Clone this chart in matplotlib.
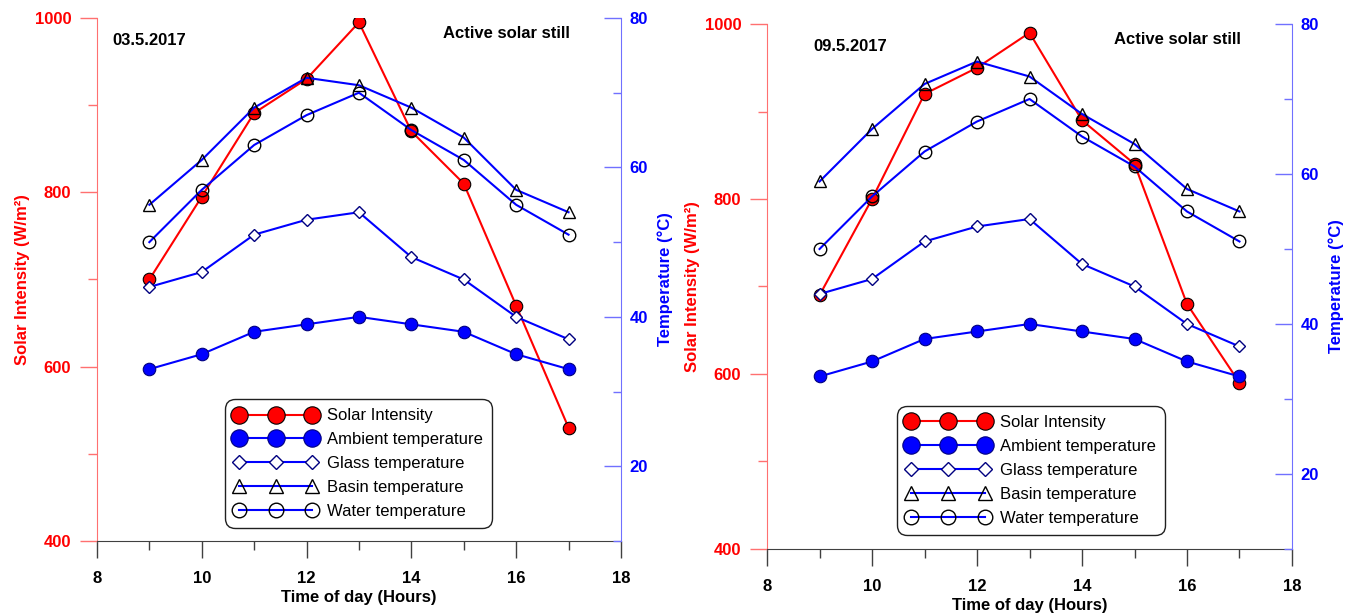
import matplotlib.pyplot as plt
from matplotlib.ticker import MultipleLocator

plt.rcParams["font.family"] = ["Liberation Sans", "DejaVu Sans"]

hours = [9, 10, 11, 12, 13, 14, 15, 16, 17]

# 03.5.2017
solar_a = [700, 795, 891, 930, 995, 870, 810, 670, 530]
ambient_a = [33, 35, 38, 39, 40, 39, 38, 35, 33]
glass_a = [44, 46, 51, 53, 54, 48, 45, 40, 37]
basin_a = [55, 61, 68, 72, 71, 68, 64, 57, 54]
water_a = [50, 57, 63, 67, 70, 65, 61, 55, 51]

# 09.5.2017
solar_b = [690, 800, 920, 950, 990, 890, 840, 680, 590]
ambient_b = [33, 35, 38, 39, 40, 39, 38, 35, 33]
glass_b = [44, 46, 51, 53, 54, 48, 45, 40, 37]
basin_b = [59, 66, 72, 75, 73, 68, 64, 58, 55]
water_b = [50, 57, 63, 67, 70, 65, 61, 55, 51]

RED = "#ff0000"
BLUE = "#0000ff"
NAVY = "#000080"


def panel(rect, date, solar, ambient, glass, basin, water, date_x, leg_x, leg_y):
    ax1 = fig.add_axes(rect)
    ax2 = ax1.twinx()

    (l1,) = ax1.plot(hours, solar, color=RED, lw=1.5, marker="o", ms=9,
                     mfc=RED, mec="black", mew=0.8, label="Solar Intensity")
    (l2,) = ax2.plot(hours, ambient, color=BLUE, lw=1.5, marker="o", ms=9,
                     mfc=BLUE, mec=NAVY, mew=0.8, label="Ambient temperature")
    (l3,) = ax2.plot(hours, glass, color=BLUE, lw=1.5, marker="D", ms=6,
                     mfc="white", mec=NAVY, mew=1.0, label="Glass temperature")
    (l4,) = ax2.plot(hours, basin, color=BLUE, lw=1.5, marker="^", ms=9,
                     mfc="none", mec="black", mew=1.0, label="Basin temperature")
    (l5,) = ax2.plot(hours, water, color=BLUE, lw=1.5, marker="o", ms=9,
                     mfc="none", mec="black", mew=1.0, label="Water temperature")

    ax1.set_xlim(8, 18)
    ax1.set_ylim(400, 1000)
    ax2.set_ylim(10, 80)
    ax1.xaxis.set_major_locator(MultipleLocator(2))
    ax1.xaxis.set_minor_locator(MultipleLocator(1))
    ax1.yaxis.set_major_locator(MultipleLocator(200))
    ax1.yaxis.set_minor_locator(MultipleLocator(100))
    ax2.yaxis.set_major_locator(MultipleLocator(20))
    ax2.yaxis.set_minor_locator(MultipleLocator(10))

    for ax in (ax1, ax2):
        ax.spines["top"].set_visible(False)
    ax1.spines["right"].set_visible(False)
    ax2.spines["left"].set_visible(False)
    ax2.spines["bottom"].set_visible(False)
    ax1.spines["left"].set_color("#ff7070")
    ax2.spines["right"].set_color("#7070ff")
    ax1.spines["bottom"].set_color("#404040")

    ax1.tick_params(axis="x", which="major", length=12, width=1, color="#404040",
                    labelsize=12, pad=9.5)
    ax1.tick_params(axis="x", which="minor", length=6.5, width=1, color="#404040")
    ax1.tick_params(axis="y", which="major", length=12, width=1, color="#ff7070",
                    labelcolor=RED, labelsize=12, pad=6.5)
    ax1.tick_params(axis="y", which="minor", length=6.5, width=1, color="#ff7070")
    ax2.tick_params(axis="y", which="major", direction="in", length=12, width=1,
                    color="#7070ff", labelcolor=BLUE, labelsize=12, pad=6)
    ax2.tick_params(axis="y", which="minor", direction="in", length=6, width=1,
                    color="#7070ff")
    for lab in ax1.get_xticklabels() + ax1.get_yticklabels() + ax2.get_yticklabels():
        lab.set_fontweight("bold")

    ax1.set_xlabel("Time of day (Hours)", fontsize=12, fontweight="bold", labelpad=3)
    ax1.set_ylabel("Solar Intensity (W/m²)", fontsize=12, fontweight="bold",
                   color=RED, labelpad=3.5)
    ax2.set_ylabel("Temperature (°C)", fontsize=12, fontweight="bold",
                   color=BLUE, labelpad=7)

    ax1.text(date_x, 0.957, date, transform=ax1.transAxes, fontsize=12,
             fontweight="bold", va="center", ha="left")
    ax1.text(0.903, 0.97, "Active solar still", transform=ax1.transAxes,
             fontsize=12, fontweight="bold", va="center", ha="right")

    handles = [l1, l2, l3, l4, l5]
    leg = ax2.legend(handles, [h.get_label() for h in handles],
                     loc="lower left", bbox_to_anchor=(leg_x, leg_y),
                     numpoints=3, handlelength=5.0, handletextpad=0.6,
                     fontsize=12, labelspacing=0.53, borderpad=0.55,
                     borderaxespad=0, fancybox=True, framealpha=1,
                     edgecolor="#202020")
    leg.get_frame().set_linewidth(1.0)
    leg.get_frame().set_boxstyle("round", pad=0, rounding_size=0.6)
    # larger filled circles in the key, open markers keep their size
    for h, ms in zip(leg.legend_handles, [12.5, 12.5, 7, 10, 10.5]):
        h.set_markersize(ms)
    return ax1, ax2


fig = plt.figure(figsize=(13.54, 6.14), dpi=100)
panel([0.0716, 0.1189, 0.387, 0.8518], "03.5.2017", solar_a, ambient_a,
      glass_a, basin_a, water_a, 0.03, 0.244, 0.025)
panel([0.5665, 0.1059, 0.3877, 0.855], "09.5.2017", solar_b, ambient_b,
      glass_b, basin_b, water_b, 0.088, 0.248, 0.027)

plt.savefig("out.png", dpi=100)
